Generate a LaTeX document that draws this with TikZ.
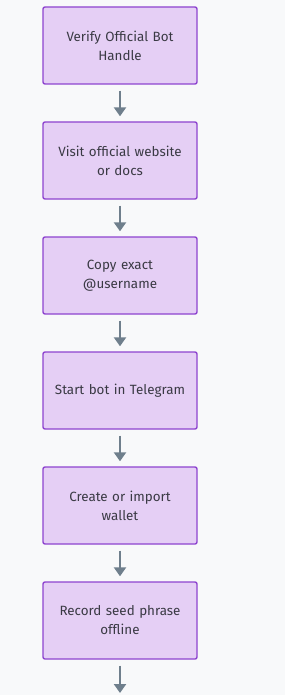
\documentclass[tikz,border=0pt]{standalone}
\usepackage{fontspec}
\setmainfont{Fira Sans}
\usetikzlibrary{arrows.meta}
\definecolor{bg}{HTML}{F8F9FA}
\definecolor{boxfill}{HTML}{E5CFF5}
\definecolor{boxdraw}{HTML}{8E44CF}
\definecolor{arr}{HTML}{6F7F8C}
\definecolor{txt}{HTML}{3A3A44}
\begin{document}
\begin{tikzpicture}[x=1pt,y=1pt,
  stepbox/.style={draw=boxdraw, line width=1.4pt, fill=boxfill, rounded corners=2pt,
    minimum width=154pt, minimum height=77pt, inner sep=0pt, align=center,
    text=txt, font=\fontsize{13.4}{19}\selectfont, text width=145pt},
  flow/.style={draw=arr, line width=2.8pt, -{Triangle[length=9pt,width=12pt]}}]
\fill[bg] (0,0) rectangle (285,-695);
\useasboundingbox (0,0) rectangle (285,-695);
\node[stepbox] (a) at (120,-45.5) {Verify Official Bot\\Handle};
\node[stepbox] (b) at (120,-160.5) {Visit official website\\or docs};
\node[stepbox] (c) at (120,-275.5) {Copy exact\\@username};
\node[stepbox] (d) at (120,-390.5) {Start bot in Telegram};
\node[stepbox] (e) at (120,-505.5) {Create or import\\wallet};
\node[stepbox] (f) at (120,-620.5) {Record seed phrase\\offline};
\coordinate (g) at (120,-693);
\draw[flow] ([yshift=-6pt]a.south) -- ([yshift=5pt]b.north);
\draw[flow] ([yshift=-6pt]b.south) -- ([yshift=5pt]c.north);
\draw[flow] ([yshift=-6pt]c.south) -- ([yshift=5pt]d.north);
\draw[flow] ([yshift=-6pt]d.south) -- ([yshift=5pt]e.north);
\draw[flow] ([yshift=-6pt]e.south) -- ([yshift=5pt]f.north);
\draw[flow] ([yshift=-6pt]f.south) -- (g);
\end{tikzpicture}
\end{document}
